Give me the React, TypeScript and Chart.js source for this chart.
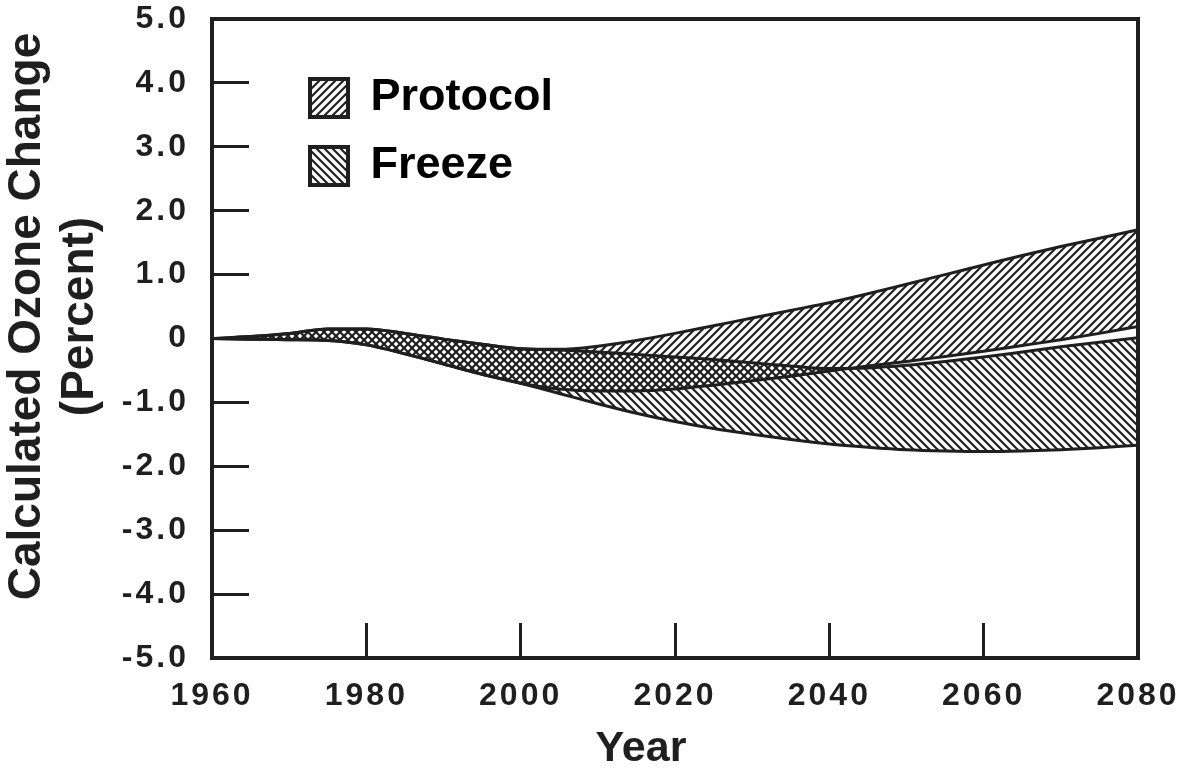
import React, { useEffect, useRef } from 'react';
import { Chart, registerables } from 'chart.js';

Chart.register(...registerables);

// ---- data ----
const years = [1960, 1965, 1970, 1975, 1980, 1985, 1990, 1995, 2000, 2005, 2010, 2015, 2020, 2025, 2030, 2035, 2040, 2045, 2050, 2055, 2060, 2065, 2070, 2075, 2080];
const protocolUpper = [0, 0.03, 0.08, 0.15, 0.15, 0.08, -0.01, -0.09, -0.16, -0.17, -0.12, -0.03, 0.08, 0.2, 0.32, 0.44, 0.56, 0.7, 0.85, 1.0, 1.15, 1.3, 1.44, 1.57, 1.7];
const protocolLower = [0, -0.01, -0.02, -0.03, -0.1, -0.24, -0.4, -0.56, -0.7, -0.79, -0.82, -0.82, -0.79, -0.73, -0.66, -0.59, -0.51, -0.43, -0.36, -0.28, -0.2, -0.11, -0.02, 0.08, 0.19];
const freezeUpper = [0, 0.03, 0.08, 0.15, 0.15, 0.08, -0.01, -0.09, -0.16, -0.18, -0.21, -0.25, -0.29, -0.33, -0.38, -0.43, -0.47, -0.46, -0.42, -0.36, -0.29, -0.21, -0.13, -0.06, 0.01];
const freezeLower = [0, -0.01, -0.02, -0.03, -0.1, -0.24, -0.4, -0.56, -0.7, -0.86, -1.02, -1.17, -1.3, -1.41, -1.5, -1.58, -1.65, -1.7, -1.74, -1.76, -1.77, -1.76, -1.74, -1.71, -1.67];

const legendLabels = ['Protocol', 'Freeze'];
const xTickValues = [1960, 1980, 2000, 2020, 2040, 2060, 2080];
const xTickLabels = ['1960', '1980', '2000', '2020', '2040', '2060', '2080'];
const yTickValues = [5, 4, 3, 2, 1, 0, -1, -2, -3, -4, -5];
const yTickLabels = ['5.0', '4.0', '3.0', '2.0', '1.0', '0', '-1.0', '-2.0', '-3.0', '-4.0', '-5.0'];
const xTitle = 'Year';
const yTitle = ['Calculated Ozone Change', '(Percent)'];

const INK = '#1f1f1f';
const FONT = "'Liberation Sans', Arial, Helvetica, sans-serif";

function makeHatch(ctx: CanvasRenderingContext2D, dir: 'fwd' | 'back', s: number, lw: number) {
  const c = document.createElement('canvas');
  c.width = s;
  c.height = s;
  const g = c.getContext('2d')!;
  g.strokeStyle = INK;
  g.lineWidth = lw;
  g.beginPath();
  if (dir === 'fwd') {
    g.moveTo(0, s); g.lineTo(s, 0);
    g.moveTo(-s / 2, s / 2); g.lineTo(s / 2, -s / 2);
    g.moveTo(s / 2, (3 * s) / 2); g.lineTo((3 * s) / 2, s / 2);
  } else {
    g.moveTo(0, 0); g.lineTo(s, s);
    g.moveTo(s / 2, -s / 2); g.lineTo((3 * s) / 2, s / 2);
    g.moveTo(-s / 2, s / 2); g.lineTo(s / 2, (3 * s) / 2);
  }
  g.stroke();
  return ctx.createPattern(c, 'repeat')!;
}

const tweaks: any = {
  id: 'tweaks',
  beforeLayout(chart: any) {
    const lg = chart.legend;
    if (lg && !lg.__p) {
      const fit = lg.fit;
      lg.fit = function () {
        this.maxWidth = 330;
        fit.call(this);
        this.height = 0;
      };
      lg.__p = true;
    }
  },
  afterLayout(chart: any) {
    const lg = chart.legend;
    if (lg) {
      lg.left = 287;
      lg.top = 52.5;
      lg.width = 330;
      lg.height = 160;
      lg.right = lg.left + lg.width;
      lg.bottom = lg.top + lg.height;
    }
  },
  beforeDraw(chart: any) {
    const shift: any = { x: { dx: -34, dy: 0 }, y: { dx: 0, dy: -22 } };
    for (const id of ['x', 'y']) {
      const s = chart.scales[id];
      if (!s || s.__p) continue;
      const dl = s.drawLabels;
      const dt = s.drawTitle;
      s.drawLabels = function (...a: any[]) {
        const c = this.ctx;
        c.save();
        c.letterSpacing = '3px';
        dl.apply(this, a);
        c.restore();
      };
      s.drawTitle = function (...a: any[]) {
        const c = this.ctx;
        c.save();
        c.translate(shift[id].dx, shift[id].dy);
        dt.apply(this, a);
        c.restore();
      };
      s.__p = true;
    }
  },
};

export default function App() {
  const ref = useRef<HTMLCanvasElement>(null);

  useEffect(() => {
    const canvas = ref.current!;
    const ctx = canvas.getContext('2d')!;
    const protoPat = makeHatch(ctx, 'fwd', 8, 2.2);
    const freezePat = makeHatch(ctx, 'back', 8, 2.2);
    const pts = (vals: number[]) => years.map((x, i) => ({ x, y: vals[i] }));
    const line = {
      borderColor: INK,
      borderWidth: 3,
      pointRadius: 0,
      pointHoverRadius: 0,
      cubicInterpolationMode: 'monotone' as const,
    };
    const tickFont = { family: FONT, size: 32, weight: 'bold' as const };

    const chart = new Chart(ctx, {
      type: 'line',
      data: {
        datasets: [
          { label: legendLabels[0], data: pts(protocolUpper), fill: '+1', backgroundColor: protoPat, ...line },
          { label: legendLabels[0] + ' (lower)', data: pts(protocolLower), fill: false, ...line },
          { label: legendLabels[1], data: pts(freezeUpper), fill: '+1', backgroundColor: freezePat, ...line },
          { label: legendLabels[1] + ' (lower)', data: pts(freezeLower), fill: false, ...line },
        ],
      },
      options: {
        responsive: false,
        animation: false,
        devicePixelRatio: 1,
        events: [],
        layout: { padding: { left: 0, top: 19, right: 51, bottom: 0 } },
        plugins: {
          legend: {
            display: true,
            position: 'top',
            align: 'start',
            labels: {
              boxWidth: 38,
              boxHeight: 38,
              padding: 23,
              color: INK,
              useBorderRadius: true,
              borderRadius: 3,
              font: { family: FONT, size: 45, weight: 'bold' },
              generateLabels: () =>
                legendLabels.map((t, i) => ({
                  text: t,
                  fillStyle: i === 0 ? protoPat : freezePat,
                  strokeStyle: INK,
                  lineWidth: 4,
                  hidden: false,
                  datasetIndex: i * 2,
                })) as any,
            },
          },
          tooltip: { enabled: false },
        },
        scales: {
          x: {
            type: 'linear',
            position: 'bottom',
            min: 1960,
            max: 2080,
            afterBuildTicks: (s: any) => { s.ticks = xTickValues.map((v) => ({ value: v })); },
            ticks: {
              padding: 54,
              color: INK,
              font: tickFont,
              maxRotation: 0,
              autoSkip: false,
              callback: (v: any) => xTickLabels[xTickValues.indexOf(Number(v))] ?? '',
            },
            grid: { drawOnChartArea: false, drawTicks: true, tickLength: -35, color: INK, lineWidth: 3 },
            border: { display: true, color: INK, width: 4 },
            title: {
              display: true,
              text: xTitle,
              color: INK,
              padding: 0,
              font: { family: FONT, size: 43, weight: 'bold', lineHeight: 1.05 },
            },
            afterFit: (s: any) => {
              s.height = 114;
              s.paddingLeft = 0;
              s.paddingRight = 0;
            },
          },
          y: {
            type: 'linear',
            position: 'left',
            min: -5,
            max: 5,
            afterBuildTicks: (s: any) => { s.ticks = yTickValues.map((v) => ({ value: v })); },
            ticks: {
              padding: 60,
              color: INK,
              font: tickFont,
              autoSkip: false,
              callback: (v: any) => yTickLabels[yTickValues.indexOf(Number(v))] ?? '',
            },
            grid: { drawOnChartArea: false, drawTicks: true, tickLength: -37, color: INK, lineWidth: 3 },
            border: { display: true, color: INK, width: 4 },
            title: {
              display: true,
              text: yTitle,
              color: INK,
              padding: 0,
              font: { family: FONT, size: 46, weight: 'bold', lineHeight: 1.17 },
            },
            afterFit: (s: any) => {
              s.width = 212;
              s.paddingTop = 0;
              s.paddingBottom = 0;
            },
          },
          x2: {
            type: 'linear',
            position: 'top',
            min: 1960,
            max: 2080,
            ticks: { display: false },
            grid: { display: false },
            border: { display: true, color: INK, width: 4 },
            afterFit: (s: any) => { s.height = 0; s.paddingLeft = 0; s.paddingRight = 0; },
          },
          y2: {
            type: 'linear',
            position: 'right',
            min: -5,
            max: 5,
            ticks: { display: false },
            grid: { display: false },
            border: { display: true, color: INK, width: 4 },
            afterFit: (s: any) => { s.width = 0; s.paddingTop = 0; s.paddingBottom = 0; },
          },
        },
      } as any,
      plugins: [tweaks],
    });

    return () => chart.destroy();
  }, []);

  return (
    <div style={{ position: 'fixed', left: 0, top: 0, width: 1189, height: 772, background: '#fff' }}>
      <canvas ref={ref} width={1189} height={772} style={{ display: 'block', width: 1189, height: 772 }} />
    </div>
  );
}
